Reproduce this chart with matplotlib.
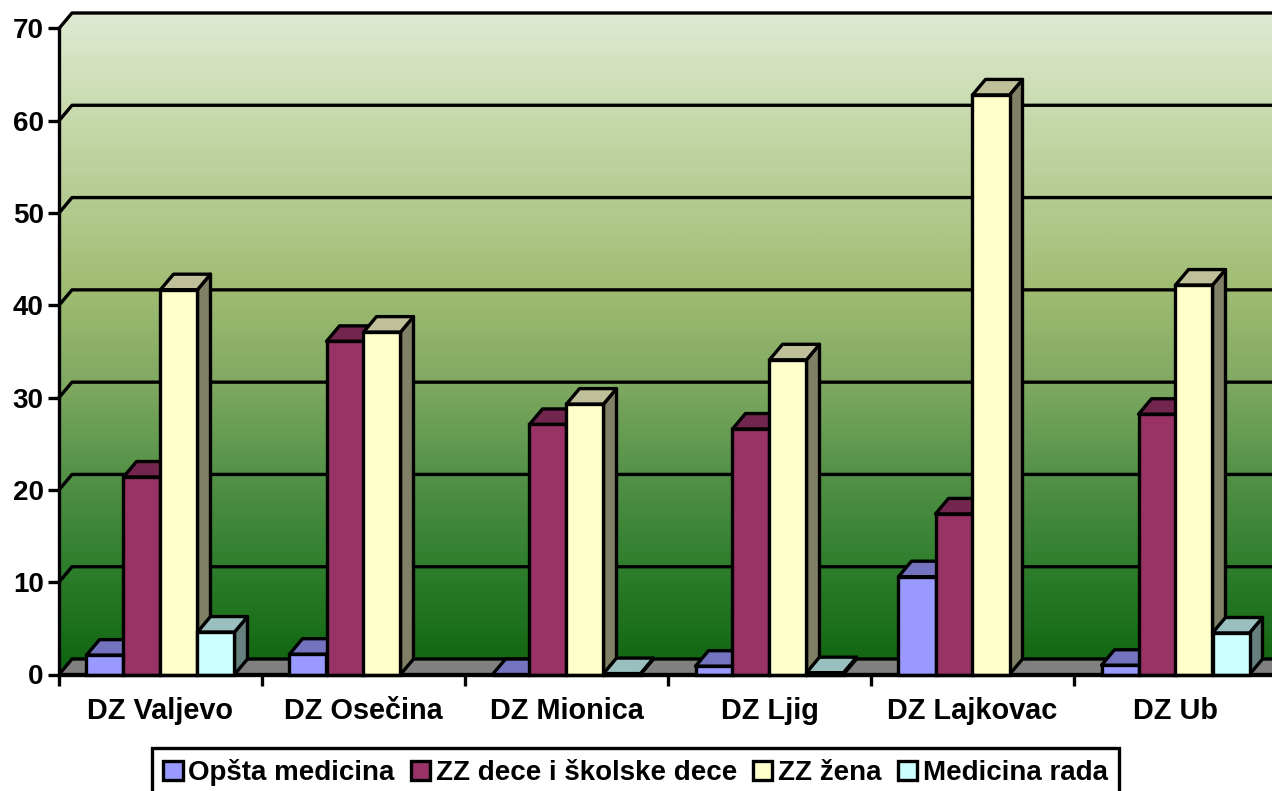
import numpy as np
import matplotlib
matplotlib.use("Agg")
import matplotlib.pyplot as plt
from matplotlib.patches import Polygon, Patch
from matplotlib.colors import LinearSegmentedColormap, to_rgb

plt.rcParams['font.family'] = ['Liberation Sans', 'DejaVu Sans']
plt.rcParams['font.weight'] = 'bold'

categories = ["DZ Valjevo", "DZ Osečina", "DZ Mionica", "DZ Ljig", "DZ Lajkovac", "DZ Ub"]
opsta_medicina = [2.1, 2.2, 0.0, 0.9, 10.6, 1.0]
zz_dece = [21.4, 36.1, 27.1, 26.6, 17.4, 28.2]
zz_zena = [41.7, 37.1, 29.3, 34.1, 62.8, 42.2]
medicina_rada = [4.6, None, 0.1, 0.2, None, 4.5]
series_names = ["Opšta medicina", "ZZ dece i školske dece", "ZZ žena", "Medicina rada"]
series_values = [opsta_medicina, zz_dece, zz_zena, medicina_rada]
series_colors = ["#9999FF", "#993366", "#FFFFCC", "#CCFFFF"]
y_ticks = [0, 10, 20, 30, 40, 50, 60, 70]

W, H = 1272, 791
x0_px, y0_px, ytop_px = 59, 674.5, 13
cat_px = 203
unit_px = 646.5 / 70
depth_x = 13 / cat_px
depth_y = 15.5 / unit_px
bar_w = 37 / cat_px
bar_start = 27.5 / cat_px
LW = 2.4

fig = plt.figure(figsize=(W / 100, H / 100), dpi=100, facecolor="white")
ax = fig.add_axes([x0_px / W, (H - y0_px) / H, (W - x0_px) / W, (y0_px - ytop_px) / H])
xmax = (W - x0_px) / cat_px
ax.patch.set_visible(False)

# back wall and side wall gradient
stops = [(0.0, "#E0EAD4"), (0.14, "#CADBB0"), (0.42, "#A0BC72"),
         (0.56, "#80A962"), (0.70, "#539147"), (0.86, "#2A7B29"), (1.0, "#0F640F")]
cmap = LinearSegmentedColormap.from_list("wall", stops)
grad = np.linspace(0, 1, 512).reshape(-1, 1)
im = ax.imshow(grad, cmap=cmap, extent=(0, xmax, 0, 70 + depth_y), aspect="auto", zorder=0,
               interpolation="bilinear")
wall = Polygon([(0, 0), (depth_x, depth_y), (xmax, depth_y), (xmax, 70 + depth_y),
                (depth_x, 70 + depth_y), (0, 70)], closed=True, transform=ax.transData,
               fill=False, edgecolor="none")
ax.add_patch(wall)
im.set_clip_path(wall)

# floor
ax.add_patch(Polygon([(0, 0), (depth_x, depth_y), (xmax + 1, depth_y), (xmax + 1, 0)], closed=True,
                     facecolor="#808080", edgecolor="black", lw=LW, zorder=1, clip_on=True))

# gridlines on the wall
for v in y_ticks[1:]:
    ax.plot([0, depth_x, xmax], [v, v + depth_y, v + depth_y], color="black", lw=LW, zorder=1,
            clip_on=False, solid_joinstyle="round")


def shade(color, f):
    return tuple(c * f for c in to_rgb(color))


z = 2
for c in range(len(categories)):
    for s, (values, color) in enumerate(zip(series_values, series_colors)):
        v = values[c]
        if v is None:
            continue
        l = c + bar_start + s * bar_w
        r = l + bar_w
        style = dict(edgecolor="black", lw=LW, joinstyle="round", clip_on=False, zorder=z)
        ax.add_patch(Polygon([(r, 0), (r + depth_x, depth_y), (r + depth_x, v + depth_y), (r, v)],
                             closed=True, facecolor=shade(color, 0.5), **style))
        ax.add_patch(Polygon([(l, v), (l + depth_x, v + depth_y), (r + depth_x, v + depth_y), (r, v)],
                             closed=True, facecolor=shade(color, 0.75), **style))
        ax.bar(l, v, width=bar_w, align="edge", bottom=0, facecolor=color, edgecolor="black",
               lw=LW, zorder=z, clip_on=False)
        z += 1

for name in ("top", "right"):
    ax.spines[name].set_visible(False)
ax.spines["left"].set_bounds(0, 70)
ax.spines["left"].set_linewidth(LW)
ax.spines["bottom"].set_linewidth(LW)
ax.spines["left"].set_zorder(1000)
ax.spines["bottom"].set_zorder(1000)

ax.set_yticks(y_ticks)
ax.set_yticklabels([str(t) for t in y_ticks], fontsize=20, fontweight="bold")
ax.tick_params(axis="y", length=8, width=LW, pad=3)
ax.set_xticks(range(len(categories) + 1))
ax.set_xticklabels([])
ax.tick_params(axis="x", which="major", length=8, width=LW)
ax.set_xticks(np.arange(len(categories)) + 0.5, minor=True)
ax.set_xticklabels(categories, minor=True, fontsize=20.8, fontweight="bold")
ax.tick_params(axis="x", which="minor", length=0, pad=16)

# limits last: set_xticks would otherwise widen the view to hold the tick at 6
ax.set_xlim(0, xmax)
ax.set_ylim(0, 70 + depth_y)

handles = [Patch(facecolor=c, edgecolor="black", lw=LW) for c in series_colors]
leg = fig.legend(handles, series_names, ncol=4, loc="upper left",
                 bbox_to_anchor=(152 / W, 1 - 748 / H), bbox_transform=fig.transFigure,
                 borderaxespad=0, fontsize=20, frameon=True, fancybox=False,
                 edgecolor="black", framealpha=1, handlelength=0.7, handleheight=0.7,
                 handletextpad=0.2, columnspacing=0.58, borderpad=0.4)
leg.get_frame().set_linewidth(LW)
for t in leg.get_texts():
    t.set_fontweight("bold")

fig.savefig("out.png", dpi=100, facecolor="white")
